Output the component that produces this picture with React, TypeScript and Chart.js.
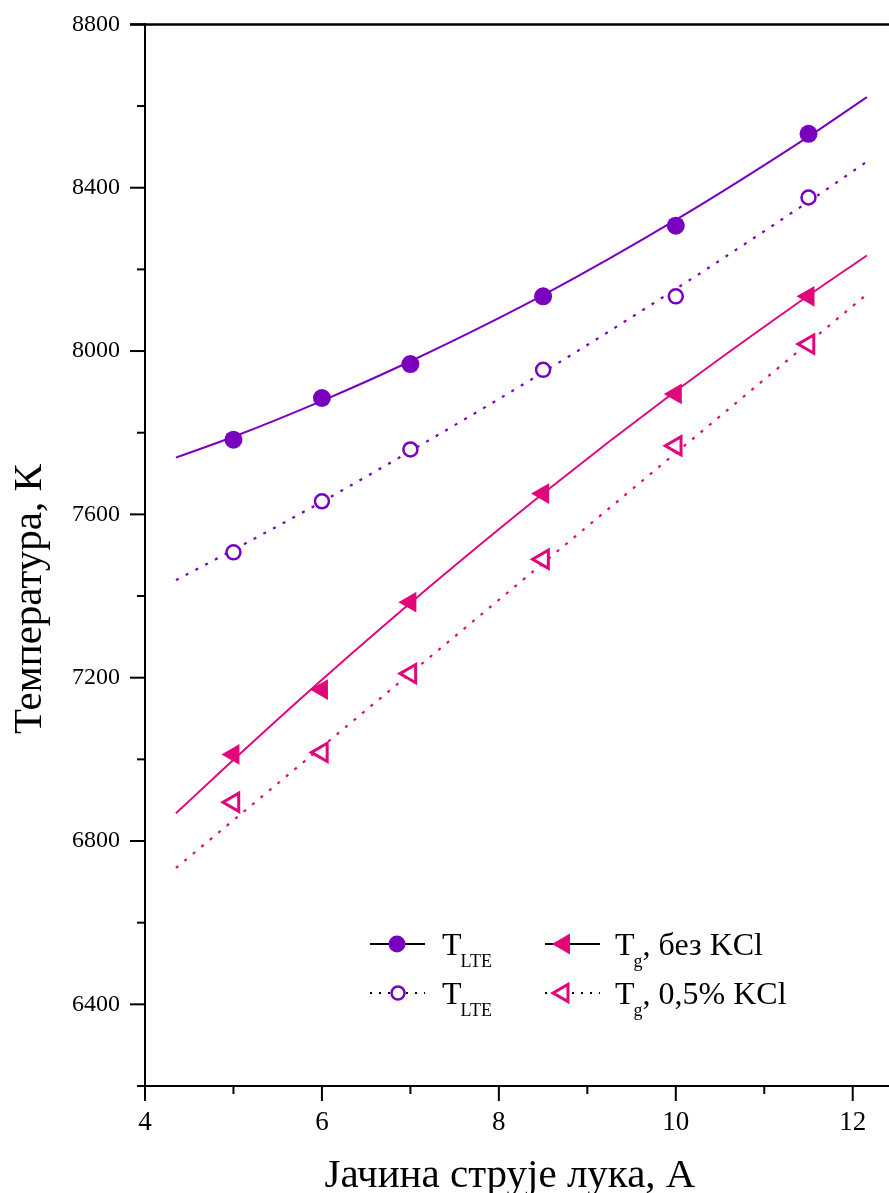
import React, { useEffect, useRef } from 'react';
import { Chart, registerables } from 'chart.js';

Chart.register(...registerables);

// ---- data ----
const currentA = [5, 6, 7, 8.5, 10, 11.5];
const tLteNoKcl = [7783, 7885, 7968, 8134, 8307, 8532];
const tLteKcl = [7507, 7632, 7759, 7954, 8134, 8376];
const tGasNoKcl = [7012, 7171, 7385, 7651, 7895, 8134];
const tGasKcl = [6895, 7017, 7210, 7490, 7768, 8017];

// fitted curves
const fitX = [4.35, 5, 6, 7, 8.5, 10, 11.5, 12.16];
const fitLteNoKcl = [7739, 7790, 7878, 7975, 8137, 8321, 8525, 8622];
const fitLteKcl = [7439, 7513, 7631, 7755, 7948, 8152, 8366, 8464];
const fitGasNoKcl = [6868, 6999, 7195, 7383, 7651, 7902, 8136, 8234];
const fitLineX = [4.35, 12.16];
const fitGasKcl = [6734, 8139];

const xTitle = 'Јачина струје лука, А';
const yTitle = 'Температура, К';
const legendMain = ['T', 'T', 'T', 'T'];
const legendSub = ['LTE', 'LTE', 'g', 'g'];
const legendRest = ['', '', ', без KCl', ', 0,5% KCl'];

const PURPLE = '#7A00BF';
const PINK = '#E2067B';
const SERIF = '"Liberation Serif", "Times New Roman", serif';

const pts = (xs: number[], ys: number[]) => xs.map((x, i) => ({ x, y: ys[i] }));

function circlePath(ctx: CanvasRenderingContext2D, x: number, y: number, r: number) {
  ctx.beginPath();
  ctx.arc(x, y, r, 0, Math.PI * 2);
  ctx.closePath();
}
function triPath(ctx: CanvasRenderingContext2D, x: number, y: number, r: number) {
  const h = (r * Math.sqrt(3)) / 2;
  ctx.beginPath();
  ctx.moveTo(x - r, y);
  ctx.lineTo(x + r / 2, y - h);
  ctx.lineTo(x + r / 2, y + h);
  ctx.closePath();
}

const decoPlugin = {
  id: 'deco',
  afterDraw(chart: any) {
    const ctx: CanvasRenderingContext2D = chart.ctx;
    const area = chart.chartArea;
    const xs = chart.scales.x;
    const ys = chart.scales.y;
    ctx.save();
    ctx.strokeStyle = '#000';
    ctx.fillStyle = '#000';
    ctx.lineWidth = 2;
    // x ticks + labels
    ctx.font = `27px ${SERIF}`;
    ctx.textAlign = 'center';
    ctx.textBaseline = 'middle';
    xs.ticks.forEach((t: any) => {
      const px = xs.getPixelForValue(t.value);
      const major = t.value % 2 === 0;
      const len = major ? 15 : 8;
      ctx.beginPath();
      ctx.moveTo(px, area.bottom);
      ctx.lineTo(px, area.bottom + len);
      ctx.stroke();
      if (major) ctx.fillText(String(t.value), px, area.bottom + 37);
    });
    ys.ticks.forEach((t: any) => {
      const py = ys.getPixelForValue(t.value);
      const len = t.value % 400 === 0 ? 15 : 8;
      ctx.beginPath();
      ctx.moveTo(area.left, py);
      ctx.lineTo(area.left - len, py);
      ctx.stroke();
    });
    // top frame line
    ctx.lineWidth = 2.5;
    ctx.beginPath();
    ctx.moveTo(area.left - 15, area.top);
    ctx.lineTo(area.right, area.top);
    ctx.stroke();

    // axis titles
    ctx.font = `41px ${SERIF}`;
    ctx.textAlign = 'center';
    ctx.textBaseline = 'alphabetic';
    ctx.fillText(xTitle, 510, 1187);
    ctx.save();
    ctx.translate(41, 599);
    ctx.rotate(-Math.PI / 2);
    ctx.fillText(yTitle, 0, 0);
    ctx.restore();

    // legend
    const cols = [370, 545];
    const rowsY = [944, 993];
    const textX = [442, 615];
    const items = [
      { col: 0, row: 0, dashed: false, kind: 'circleFilled' },
      { col: 0, row: 1, dashed: true, kind: 'circleOpen' },
      { col: 1, row: 0, dashed: false, kind: 'triFilled' },
      { col: 1, row: 1, dashed: true, kind: 'triOpen' },
    ];
    items.forEach((it, k) => {
      const x0 = cols[it.col];
      const y0 = rowsY[it.row];
      ctx.strokeStyle = '#000';
      ctx.lineWidth = 2;
      ctx.setLineDash(it.dashed ? [2, 7] : []);
      ctx.beginPath();
      ctx.moveTo(x0, y0);
      ctx.lineTo(x0 + 55, y0);
      ctx.stroke();
      ctx.setLineDash([]);
      if (it.kind === 'circleFilled') {
        circlePath(ctx, x0 + 27, y0, 8.5);
        ctx.fillStyle = PURPLE;
        ctx.fill();
      } else if (it.kind === 'circleOpen') {
        circlePath(ctx, x0 + 28, y0, 6.5);
        ctx.fillStyle = '#fff';
        ctx.fill();
        ctx.strokeStyle = PURPLE;
        ctx.lineWidth = 2.5;
        ctx.stroke();
      } else if (it.kind === 'triFilled') {
        triPath(ctx, x0 + 19, y0, 12);
        ctx.fillStyle = PINK;
        ctx.fill();
      } else {
        triPath(ctx, x0 + 18, y0, 10);
        ctx.fillStyle = '#fff';
        ctx.fill();
        ctx.strokeStyle = PINK;
        ctx.lineWidth = 3;
        ctx.stroke();
      }
      const bx = textX[it.col];
      const by = rowsY[it.row] + 11;
      ctx.fillStyle = '#000';
      ctx.textAlign = 'left';
      ctx.font = `32px ${SERIF}`;
      ctx.fillText(legendMain[k], bx, by);
      const w = ctx.measureText(legendMain[k]).width;
      ctx.font = `18px ${SERIF}`;
      ctx.fillText(legendSub[k], bx + w - 1, by + 12);
      const ws = ctx.measureText(legendSub[k]).width;
      ctx.font = `32px ${SERIF}`;
      ctx.fillText(legendRest[k], bx + w - 1 + ws, by);
    });
    ctx.restore();
  },
};

export default function App() {
  const ref = useRef<HTMLCanvasElement>(null);
  useEffect(() => {
    if (!ref.current) return;
    const chart = new Chart(ref.current, {
      type: 'line',
      data: {
        datasets: [
          {
            label: 'T_LTE без KCl',
            data: pts(currentA, tLteNoKcl),
            showLine: false,
            pointStyle: 'circle',
            pointRadius: 9,
            pointBackgroundColor: PURPLE,
            pointBorderColor: PURPLE,
            pointBorderWidth: 0,
          },
          {
            label: 'T_LTE 0,5% KCl',
            data: pts(currentA, tLteKcl),
            showLine: false,
            pointStyle: 'circle',
            pointRadius: 7,
            pointBackgroundColor: '#fff',
            pointBorderColor: PURPLE,
            pointBorderWidth: 2.5,
          },
          {
            label: 'T_g без KCl',
            data: pts(currentA, tGasNoKcl),
            showLine: false,
            pointStyle: 'triangle',
            pointRotation: -90,
            pointRadius: 12,
            pointBackgroundColor: PINK,
            pointBorderColor: PINK,
            pointBorderWidth: 0,
          },
          {
            label: 'T_g 0,5% KCl',
            data: pts(currentA, tGasKcl),
            showLine: false,
            pointStyle: 'triangle',
            pointRotation: -90,
            pointRadius: 10.5,
            pointBackgroundColor: '#fff',
            pointBorderColor: PINK,
            pointBorderWidth: 3,
          },
          {
            label: 'fit1',
            data: pts(fitX, fitLteNoKcl),
            borderColor: PURPLE,
            borderWidth: 2,
            pointRadius: 0,
            cubicInterpolationMode: 'monotone',
            fill: false,
          },
          {
            label: 'fit2',
            data: pts(fitX, fitLteKcl),
            borderColor: PURPLE,
            borderWidth: 2.2,
            borderDash: [3, 8],
            pointRadius: 0,
            cubicInterpolationMode: 'monotone',
            fill: false,
          },
          {
            label: 'fit3',
            data: pts(fitX, fitGasNoKcl),
            borderColor: PINK,
            borderWidth: 2,
            pointRadius: 0,
            cubicInterpolationMode: 'monotone',
            fill: false,
          },
          {
            label: 'fit4',
            data: pts(fitLineX, fitGasKcl),
            borderColor: PINK,
            borderWidth: 2.2,
            borderDash: [3, 8],
            pointRadius: 0,
            fill: false,
          },
        ],
      } as any,
      options: {
        responsive: false,
        animation: false,
        devicePixelRatio: 1,
        layout: { autoPadding: false, padding: { top: 20, left: 0, right: 0, bottom: 0 } },
        plugins: { legend: { display: false }, tooltip: { enabled: false } },
        scales: {
          x: {
            type: 'linear',
            min: 4,
            max: 12.41,
            afterFit: (s: any) => {
              s.height = 107;
              s.paddingRight = 0;
              s.paddingLeft = 0;
            },
            ticks: {
              display: false,
              stepSize: 1,
              autoSkip: false,
              includeBounds: false,
            },
            grid: {
              drawOnChartArea: false,
              drawTicks: false,
            },
            border: { display: true, color: '#000', width: 2 },
          },
          y: {
            type: 'linear',
            min: 6200,
            max: 8800,
            afterFit: (s: any) => {
              s.width = 145;
            },
            ticks: {
              stepSize: 200,
              autoSkip: false,
              includeBounds: false,
              padding: 10,
              color: '#000',
              font: { family: SERIF, size: 24 },
              callback: (v: any) => (Number(v) % 400 === 0 ? String(v) : ''),
            },
            grid: {
              drawOnChartArea: false,
              drawTicks: true,
              tickLength: 15,
              tickColor: 'rgba(0,0,0,0)',
            },
            border: { display: true, color: '#000', width: 2 },
          },
        },
      } as any,
      plugins: [decoPlugin],
    });
    return () => chart.destroy();
  }, []);

  return (
    <div style={{ position: 'absolute', left: 0, top: 0, width: 889, height: 1193, background: '#fff' }}>
      <canvas ref={ref} width={889} height={1193} style={{ display: 'block' }} />
    </div>
  );
}
